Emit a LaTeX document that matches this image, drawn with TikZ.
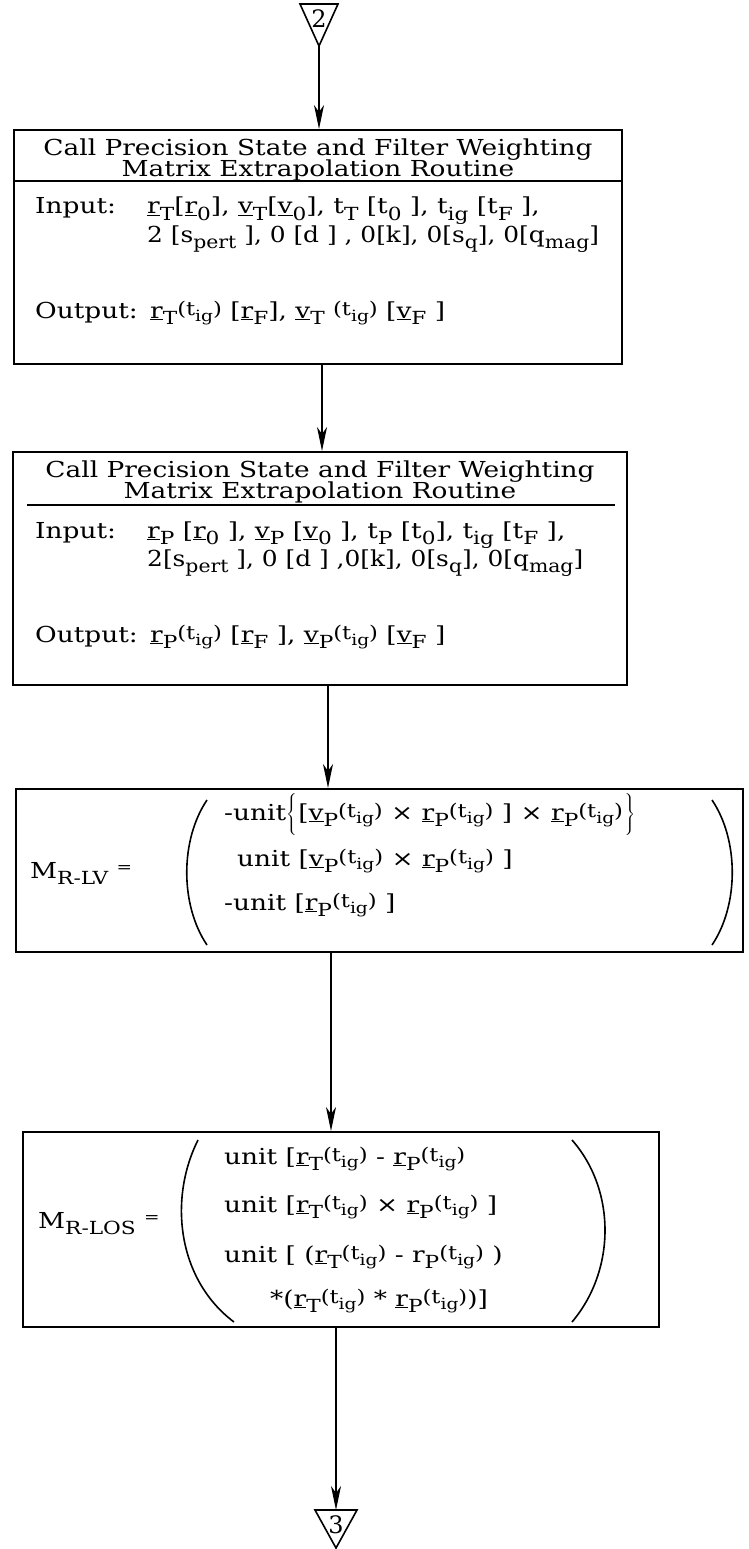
\documentclass[tikz,border=0pt]{standalone}
\usepackage{fontspec}
\setmainfont{DejaVu Serif}
\usepackage{graphicx}
\usetikzlibrary{arrows.meta}
\newcommand{\hs}[1]{\scalebox{1.2}[1]{#1}}
\newcommand{\hsn}[1]{\scalebox{1.13}[1]{#1}}
\newcommand{\sbs}[1]{\raisebox{-0.55ex}{\scalebox{0.82}{#1}}}
\newcommand{\ul}[1]{\underline{#1}}
\newcommand{\tg}{\raisebox{0.2ex}{\scalebox{0.86}{(t\sbs{ig})}}}
\newcommand{\tallbr}{\vrule height 25pt depth 15pt width 0pt}
\tikzset{
  box/.style={draw, line width=2pt, inner sep=0pt},
  arr/.style={line width=1.6pt, -{Stealth[length=24pt,width=10pt,inset=7pt]}},
  txt/.style={inner sep=0pt, anchor=base west, font=\fontsize{22}{22}\selectfont},
  ctxt/.style={inner sep=0pt, anchor=base, font=\fontsize{22}{22}\selectfont},
  thin/.style={line width=1.6pt},
}
\begin{document}
\begin{tikzpicture}[x=1pt,y=-1pt]
\useasboundingbox (0,0) rectangle (748,1549);
\fill[white] (0,0) rectangle (748,1549);
% connector 2
\draw[thin] (300,4) -- (338,4) -- (319,46) -- cycle;
\node[ctxt, font=\fontsize{24}{24}\selectfont] (l2) at (319,28) {2};
\coordinate (t2) at (319,46);
% box 1
\node[box, minimum width=608pt, minimum height=234pt] (b1) at (318,247) {};
\draw[line width=1.8pt] (b1.west |- 0,181) -- (b1.east |- 0,181);
\node[ctxt] (b1t1) at (318,156) {\hs{Call Precision State and Filter Weighting}};
\node[ctxt] (b1t2) at (318,177) {\hs{Matrix Extrapolation Routine}};
\node[txt] (b1in) at (35,214) {\hs{Input:}};
\node[txt] (b1r1) at (147,214) {\hs{\ul{r}\sbs{T}[\ul{r}\sbs{0}], \ul{v}\sbs{T}[\ul{v}\sbs{0}], t\sbs{T} [t\sbs{0} ], t\sbs{ig} [t\sbs{F} ],}};
\node[txt] (b1r2) at (147,242) {\hsn{2 [s\sbs{pert} ], 0 [d ] , 0[k], 0[s\sbs{q}], 0[q\sbs{mag}]}};
\node[txt] (b1out) at (35,318) {\hs{Output:}};
\node[txt] (b1o) at (150,318) {\hs{\ul{r}\sbs{T}\tg\ [\ul{r}\sbs{F}], \ul{v}\sbs{T} \tg\ [\ul{v}\sbs{F} ]}};
% box 2
\node[box, minimum width=614pt, minimum height=233pt] (b2) at (320,568.5) {};
\draw[line width=1.8pt] (27,505) -- (615,505);
\node[ctxt] (b2t1) at (320,477) {\hs{Call Precision State and Filter Weighting}};
\node[ctxt] (b2t2) at (320,498) {\hs{Matrix Extrapolation Routine}};
\node[txt] (b2in) at (35,538) {\hs{Input:}};
\node[txt] (b2r1) at (147,538) {\hs{\ul{r}\sbs{P} [\ul{r}\sbs{0} ], \ul{v}\sbs{P} [\ul{v}\sbs{0} ], t\sbs{P} [t\sbs{0}], t\sbs{ig} [t\sbs{F} ],}};
\node[txt] (b2r2) at (147,566) {\hsn{2[s\sbs{pert} ], 0 [d ] ,0[k], 0[s\sbs{q}], 0[q\sbs{mag}]}};
\node[txt] (b2out) at (35,642) {\hs{Output:}};
\node[txt] (b2o) at (150,642) {\hs{\ul{r}\sbs{P}\tg\ [\ul{r}\sbs{F} ], \ul{v}\sbs{P}\tg\ [\ul{v}\sbs{F} ]}};
% box 3
\node[box, minimum width=727pt, minimum height=163pt] (b3) at (379.5,870.5) {};
\node[txt] (b3m) at (30,878) {\hs{M\sbs{R-LV} \raisebox{0.5ex}{\scalebox{0.7}{=}}}};
\draw[thin] (207,800) .. controls (180,840) and (180,905) .. (207,945);
\draw[thin] (712,800) .. controls (739,840) and (739,905) .. (712,945);
\node[txt] (b3r1) at (224,820) {\hs{-unit$\left\{\tallbr\right.$[\ul{v}\sbs{P}\tg\ × \ul{r}\sbs{P}\tg\ ] × \ul{r}\sbs{P}\tg$\left.\tallbr\right\}$}};
\node[txt] (b3r2) at (237,866) {\hs{unit [\ul{v}\sbs{P}\tg\ × \ul{r}\sbs{P}\tg\ ]}};
\node[txt] (b3r3) at (224,910) {\hs{-unit [\ul{r}\sbs{P}\tg\ ]}};
% box 4
\node[box, minimum width=636pt, minimum height=195pt] (b4) at (341,1229.5) {};
\node[txt] (b4m) at (38,1228) {\hs{M\sbs{R-LOS} \raisebox{0.5ex}{\scalebox{0.7}{=}}}};
\draw[thin] (198,1140) .. controls (168,1200) and (178,1280) .. (234,1322);
\draw[thin] (572,1140) .. controls (616,1190) and (616,1270) .. (572,1322);
\node[txt] (b4r1) at (224,1164) {\hs{unit [\ul{r}\sbs{T}\tg\ - \ul{r}\sbs{P}\tg}};
\node[txt] (b4r2) at (224,1212) {\hs{unit [\ul{r}\sbs{T}\tg\ × \ul{r}\sbs{P}\tg\ ]}};
\node[txt] (b4r3) at (224,1262) {\hs{unit [ (\ul{r}\sbs{T}\tg\ - r\sbs{P}\tg\ )}};
\node[txt] (b4r4) at (270,1306) {\hs{*(\ul{r}\sbs{T}\tg\ * \ul{r}\sbs{P}\tg)]}};
% connector 3
\draw[thin] (315,1510) -- (357,1510) -- (336,1548) -- cycle;
\node[ctxt, font=\fontsize{24}{24}\selectfont] (l3) at (336,1533) {3};
\coordinate (t3) at (336,1510);
% arrows
\coordinate (x12) at (322,0);
\coordinate (x23) at (328,0);
\coordinate (x34) at (331,0);
\draw[arr] (t2) -- (t2 |- b1.north);
\draw[arr] (x12 |- b1.south) -- (x12 |- b2.north);
\draw[arr] (x23 |- b2.south) -- (x23 |- b3.north);
\draw[arr] (x34 |- b3.south) -- (x34 |- b4.north);
\draw[arr] (t3 |- b4.south) -- (t3);
\end{tikzpicture}
\end{document}
